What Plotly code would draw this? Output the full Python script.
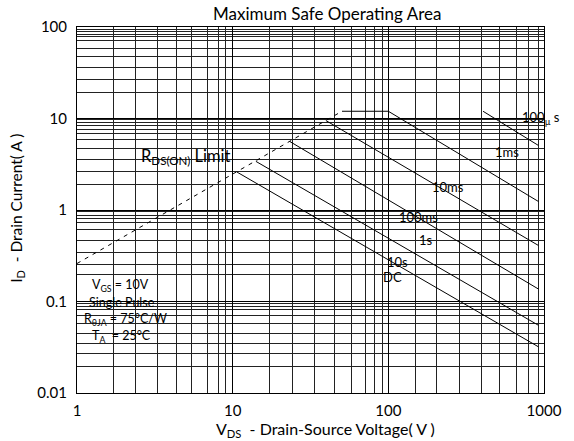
import math
import plotly.graph_objects as go

# Safe-operating-area boundaries (drain-source voltage in V, drain current in A)
rds_v = [1, 50.4]
rds_i = [0.26, 12.0]

soa_100us_v = [406, 920]
soa_100us_i = [12.0, 5.08]

soa_1ms_v = [50.4, 100, 920]
soa_1ms_i = [12.0, 12.0, 1.24]

soa_10ms_v = [39.7, 920]
soa_10ms_i = [9.5, 0.41]

soa_100ms_v = [23.3, 920]
soa_100ms_i = [5.6, 0.137]

soa_1s_v = [14.1, 920]
soa_1s_i = [3.4, 0.055]

soa_dc_v = [10.65, 920]
soa_dc_i = [2.6, 0.032]

# Axis tick labels
x_tickvals = [1, 10, 100, 1000]
x_ticktext = ["1", "10", "100", "1000"]
y_tickvals = [0.01, 0.1, 1, 10, 100]
y_ticktext = ["0.01", "0.1", "1", "10", "100"]

# Minor grid positions
x_minor = [1.71, 2.39, 3.29, 4.33, 5.45, 6.93, 8.09, 8.99,
           17.3, 24.2, 33.4, 45.2, 58.3, 71, 81.8, 91.4,
           149.6, 205, 287, 395, 520, 663, 800, 917]
y_minor = [0.0194, 0.0271, 0.0348, 0.0447, 0.0573, 0.0705, 0.0819, 0.0883, 0.0944,
           0.197, 0.256, 0.347, 0.469, 0.609, 0.725, 0.811, 0.877, 0.959,
           1.91, 2.66, 3.55, 4.67, 5.94, 6.89, 7.61, 8.34, 8.99, 9.68,
           19.4, 27.0, 36.1, 48.2, 58.7, 70.6, 78.0, 83.2, 88.9, 93.5]

FONT = "Lato, 'Open Sans', sans-serif"
LINE = dict(color="black", width=1)

fig = go.Figure()
fig.add_trace(go.Scatter(x=rds_v, y=rds_i, mode="lines",
                         line=dict(color="black", width=1, dash="4px,5px")))
for v, i in [(soa_100us_v, soa_100us_i), (soa_1ms_v, soa_1ms_i),
             (soa_10ms_v, soa_10ms_i), (soa_100ms_v, soa_100ms_i),
             (soa_1s_v, soa_1s_i), (soa_dc_v, soa_dc_i)]:
    fig.add_trace(go.Scatter(x=v, y=i, mode="lines", line=LINE))


def label(v, i, txt, size):
    return dict(x=math.log10(v), y=math.log10(i), xref="x", yref="y",
                xanchor="center", yanchor="middle", text=txt, showarrow=False,
                font=dict(family=FONT, size=size, color="black"))


# Curve labels (voltage, current, text, size)
curve_labels = [
    (960, 10.2, "100<sub>µ</sub> s", 13),
    (578, 4.33, "1ms", 13),
    (243, 1.80, "10ms", 13),
    (157, 0.845, "100ms", 13),
    (174, 0.474, "1s", 13),
    (114.5, 0.272, "10s", 13),
    (106.5, 0.187, "DC", 13),
    (5.0, 3.82, "R<sub>DS(ON)</sub> Limit", 16.5),
]
# Test-condition notes
notes = [
    (1.89, 0.149, "V<sub>GS</sub> = 10V"),
    (1.94, 0.0978, "Single Pulse"),
    (2.05, 0.0632, "R<sub>θJA</sub> = 75°C/W"),
    (1.94, 0.0416, "T<sub>A</sub>  = 25°C"),
]

annotations = [label(v, i, t, s) for v, i, t, s in curve_labels]
annotations += [label(v, i, t, 12.5) for v, i, t in notes]


def paper_text(x, y, txt, size, angle=0):
    return dict(x=x, y=y, xref="paper", yref="paper", xanchor="center",
                yanchor="middle", showarrow=False, text=txt, textangle=angle,
                font=dict(family=FONT, size=size, color="black"))


annotations += [
    paper_text(0.5356, 1.038, "Maximum Safe Operating Area", 17),
    paper_text(0.533, -0.101, "V<sub>DS</sub>  - Drain-Source Voltage( V )", 16),
    paper_text(-0.13, 0.504, "I<sub>D</sub>  - Drain Current( A )", 15.5, -90),
]

axis_common = dict(
    type="log", showgrid=True, gridcolor="black", gridwidth=1,
    showline=True, linecolor="black", linewidth=1, mirror=True,
    ticks="", zeroline=False, tickfont=dict(family=FONT, size=15, color="black"),
)

fig.update_xaxes(range=[0, 3], tickmode="array", tickvals=x_tickvals, ticktext=x_ticktext,
                 minor=dict(tickmode="array", tickvals=x_minor, showgrid=True,
                            gridcolor="#222", gridwidth=1, ticks=""),
                 ticklabelstandoff=4, **axis_common)
fig.update_yaxes(range=[-2, 2], tickmode="array", tickvals=y_tickvals, ticktext=y_ticktext,
                 minor=dict(tickmode="array", tickvals=y_minor, showgrid=True,
                            gridcolor="#222", gridwidth=1, ticks=""),
                 ticklabelstandoff=6, **axis_common)

fig.update_layout(
    width=574, height=441,
    margin=dict(l=77, r=19, t=27, b=48),
    paper_bgcolor="white", plot_bgcolor="white",
    showlegend=False,
    annotations=annotations,
)

fig.write_html("out.html")
